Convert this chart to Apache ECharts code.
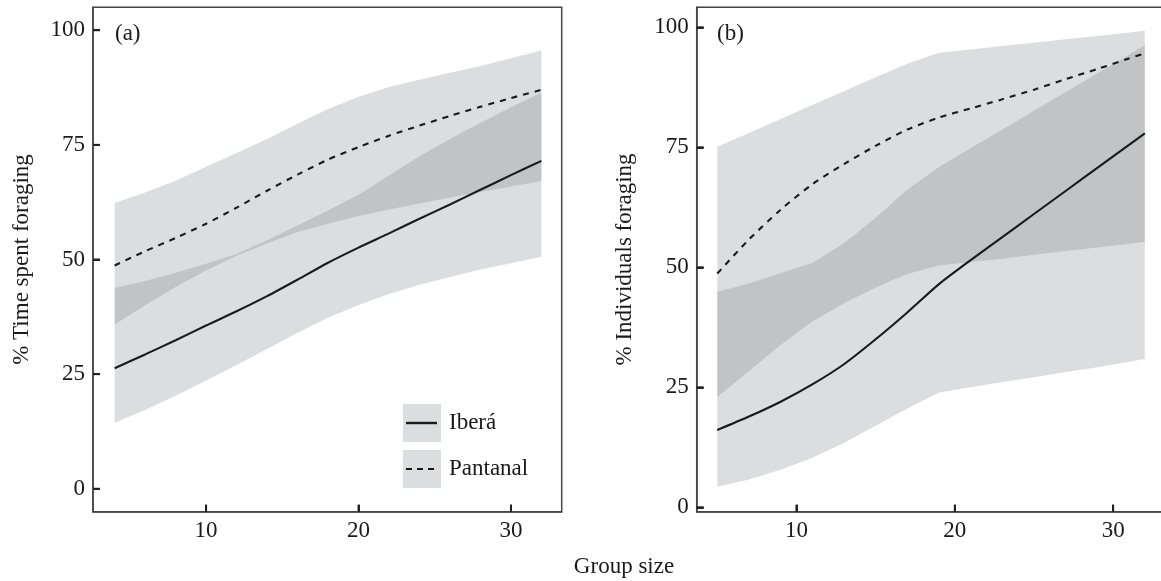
<!DOCTYPE html>
<html>
<head>
<meta charset="utf-8">
<script src="https://cdn.jsdelivr.net/npm/echarts@6/dist/echarts.min.js"></script>
<style>
html,body{margin:0;padding:0;background:#fff;}
#chart{width:1161px;height:581px;}
</style>
</head>
<body>
<div id="chart"></div>
<script>
// ---------- Panel (a): % time spent foraging ----------
var groupSizeA      = [4, 6, 8, 10, 12, 14, 16, 18, 20, 22, 24, 26, 28, 30, 32];
var iberaA          = [26.3, 29.3, 32.4, 35.6, 38.7, 42.0, 45.6, 49.3, 52.6, 55.7, 58.9, 62.0, 65.2, 68.4, 71.5];
var iberaLowA       = [14.4, 17.2, 20.3, 23.6, 27.0, 30.5, 34.0, 37.3, 40.1, 42.5, 44.5, 46.2, 47.8, 49.2, 50.6];
var iberaHighA      = [43.8, 45.3, 47.1, 49.1, 51.2, 54.2, 57.4, 60.7, 64.1, 68.3, 72.5, 76.3, 79.8, 83.2, 86.4];
var pantanalA       = [48.7, 51.8, 54.7, 57.8, 61.3, 65.0, 68.5, 71.8, 74.5, 77.0, 79.2, 81.3, 83.3, 85.2, 87.0];
var pantanalLowA    = [35.8, 40.0, 44.0, 47.6, 50.8, 53.5, 56.0, 57.8, 59.5, 60.9, 62.2, 63.5, 64.7, 65.9, 67.1];
var pantanalHighA   = [62.3, 64.6, 67.2, 70.2, 73.2, 76.3, 79.6, 82.8, 85.5, 87.6, 89.2, 90.7, 92.2, 93.9, 95.6];

// ---------- Panel (b): % individuals foraging ----------
var groupSizeB      = [5, 7, 9, 11, 13, 15, 17, 19, 21, 23, 25, 27, 29, 31, 32];
var iberaB          = [16.1, 18.9, 22.0, 25.6, 29.8, 35.0, 40.6, 46.5, 51.5, 56.3, 61.1, 65.9, 70.7, 75.5, 77.9];
var iberaLowB       = [4.3, 5.8, 7.8, 10.3, 13.4, 17.0, 20.6, 23.9, 25.0, 26.1, 27.1, 28.2, 29.2, 30.3, 30.9];
var iberaHighB      = [44.9, 46.6, 48.8, 50.9, 55.0, 60.3, 66.2, 70.9, 74.8, 78.7, 82.6, 86.5, 90.4, 94.3, 96.3];
var pantanalB       = [48.7, 55.8, 62.0, 67.3, 71.5, 75.3, 78.7, 81.2, 83.1, 85.0, 87.0, 89.2, 91.3, 93.5, 94.6];
var pantanalLowB    = [23.0, 28.4, 33.8, 38.7, 42.5, 45.8, 48.6, 50.4, 51.1, 51.8, 52.6, 53.4, 54.1, 54.9, 55.3];
var pantanalHighB   = [75.1, 78.0, 80.9, 83.8, 86.7, 89.6, 92.4, 94.7, 95.4, 96.1, 96.8, 97.5, 98.2, 98.9, 99.3];

// ---------- Axis ticks / labels ----------
var xTicks = [10, 20, 30];
var yTicks = [0, 25, 50, 75, 100];
var seriesNames = ['Iberá', 'Pantanal'];
var yTitles = ['% Time spent foraging', '% Individuals foraging'];
var panelTags = ['(a)', '(b)'];
var xTitle = 'Group size';

// axis bounds (panel a, panel b)
var xMinA = 2.58, xMaxA = 33.33, yMinA = -5, yMaxA = 105;
var xMinB = 3.7, xMaxB = 33.3, yMinB = -0.92, yMaxB = 104.17;

var FONT = 'Liberation Serif, Times New Roman, serif';
var BAND = 'rgba(108,110,114,0.235)';
var INK = '#1a1a1a';
var FRAME = '#454545';

function pairs(xs, ys) { return xs.map(function (x, i) { return [x, ys[i]]; }); }
function bandData(xs, lo, hi) { return xs.map(function (x, i) { return [x, lo[i], hi[i]]; }); }

function bandSeries(idx, xs, lo, hi, name) {
  var data = bandData(xs, lo, hi);
  return {
    type: 'custom', name: name, xAxisIndex: idx, yAxisIndex: idx,
    silent: true,
    data: data,
    renderItem: function (params, api) {
      if (params.dataIndex !== 0) return null;
      var top = [], bot = [];
      for (var i = 0; i < data.length; i++) {
        top.push(api.coord([data[i][0], data[i][2]]));
        bot.push(api.coord([data[i][0], data[i][1]]));
      }
      var pts = top.concat(bot.reverse());
      return { type: 'polygon', shape: { points: pts }, style: { fill: BAND } };
    }
  };
}

function lineSeries(idx, xs, ys, name, dashed) {
  return {
    type: 'line', name: name, xAxisIndex: idx, yAxisIndex: idx,
    data: pairs(xs, ys), showSymbol: false, smooth: 0.25, silent: true,
    lineStyle: { color: INK, width: 2.1, type: dashed ? [6, 6] : 'solid' }
  };
}

// inward tick marks on the frame, placed through the axis scales
function tickSeries(idx, xMin, yMin) {
  var data = xTicks.map(function (v) { return [v, yMin, 0]; })
    .concat(yTicks.map(function (v) { return [xMin, v, 1]; }));
  return {
    type: 'custom', xAxisIndex: idx, yAxisIndex: idx, silent: true, z: 10,
    data: data,
    renderItem: function (params, api) {
      var p = api.coord([api.value(0), api.value(1)]);
      var vertical = api.value(2) === 0;
      return {
        type: 'line',
        shape: vertical ? { x1: p[0], y1: p[1], x2: p[0], y2: p[1] - 7 } : { x1: p[0], y1: p[1], x2: p[0] + 7, y2: p[1] },
        style: { stroke: '#222', lineWidth: 2, lineDash: null }
      };
    }
  };
}

function xAxis(idx, min, max) {
  return {
    type: 'value', gridIndex: idx, min: min, max: max,
    splitLine: { show: false },
    axisLine: { show: true, onZero: false, lineStyle: { color: FRAME, width: 1.5 } },
    axisTick: { show: true, inside: true, length: 7, customValues: xTicks, lineStyle: { color: '#222', width: 2 } },
    axisLabel: { customValues: xTicks, margin: 8, color: INK, fontFamily: FONT, fontSize: 23 }
  };
}
function yAxis(idx, min, max, title) {
  return {
    type: 'value', gridIndex: idx, min: min, max: max,
    name: title, nameLocation: 'middle', nameGap: 60,
    nameTextStyle: { color: INK, fontFamily: FONT, fontSize: 23 },
    splitLine: { show: false },
    axisLine: { show: true, onZero: false, lineStyle: { color: FRAME, width: 1.5 } },
    axisTick: { show: true, inside: true, length: 7, customValues: yTicks, lineStyle: { color: '#222', width: 2 } },
    axisLabel: { customValues: yTicks, margin: 8, color: INK, fontFamily: FONT, fontSize: 23 }
  };
}

var option = {
  animation: false,
  grid: [
    { left: 93, right: 599.3, top: 7.3, bottom: 69.3, show: true, borderColor: FRAME, borderWidth: 1.5, outerBoundsMode: 'none' },
    { left: 696.7, right: -4.4, top: 7.3, bottom: 69.3, show: true, borderColor: FRAME, borderWidth: 1.5, outerBoundsMode: 'none' }
  ],
  xAxis: [xAxis(0, xMinA, xMaxA), xAxis(1, xMinB, xMaxB)],
  yAxis: [yAxis(0, yMinA, yMaxA, yTitles[0]), yAxis(1, yMinB, yMaxB, yTitles[1])],
  series: [
    bandSeries(0, groupSizeA, iberaLowA, iberaHighA, seriesNames[0] + ' CI'),
    bandSeries(0, groupSizeA, pantanalLowA, pantanalHighA, seriesNames[1] + ' CI'),
    lineSeries(0, groupSizeA, iberaA, seriesNames[0], false),
    lineSeries(0, groupSizeA, pantanalA, seriesNames[1], true),
    bandSeries(1, groupSizeB, iberaLowB, iberaHighB, seriesNames[0] + ' CI'),
    bandSeries(1, groupSizeB, pantanalLowB, pantanalHighB, seriesNames[1] + ' CI'),
    lineSeries(1, groupSizeB, iberaB, seriesNames[0], false),
    lineSeries(1, groupSizeB, pantanalB, seriesNames[1], true),
    tickSeries(0, xMinA, yMinA),
    tickSeries(1, xMinB, yMinB)
  ],
  graphic: [
    { type: 'text', x: 115, y: 34, style: { text: panelTags[0], fill: INK, font: '23px ' + FONT, textVerticalAlign: 'middle' } },
    { type: 'text', x: 717, y: 34, style: { text: panelTags[1], fill: INK, font: '23px ' + FONT, textVerticalAlign: 'middle' } },
    { type: 'text', x: 624, y: 567, style: { text: xTitle, fill: INK, font: '23px ' + FONT, textAlign: 'center', textVerticalAlign: 'middle' } },
    // legend
    { type: 'rect', shape: { x: 403, y: 404, width: 38, height: 38 }, style: { fill: '#dcdddf' } },
    { type: 'rect', shape: { x: 403, y: 450, width: 38, height: 38 }, style: { fill: '#dcdddf' } },
    { type: 'line', shape: { x1: 406, y1: 423, x2: 437, y2: 423 }, style: { stroke: INK, lineWidth: 2.4 } },
    { type: 'line', shape: { x1: 406, y1: 469, x2: 437, y2: 469 }, style: { stroke: INK, lineWidth: 2, lineDash: [6, 5] } },
    { type: 'text', x: 449, y: 423, style: { text: seriesNames[0], fill: INK, font: '23px ' + FONT, textVerticalAlign: 'middle' } },
    { type: 'text', x: 449, y: 469, style: { text: seriesNames[1], fill: INK, font: '23px ' + FONT, textVerticalAlign: 'middle' } }
  ]
};

var chart = echarts.init(document.getElementById('chart'));
chart.setOption(option);
</script>
</body>
</html>
